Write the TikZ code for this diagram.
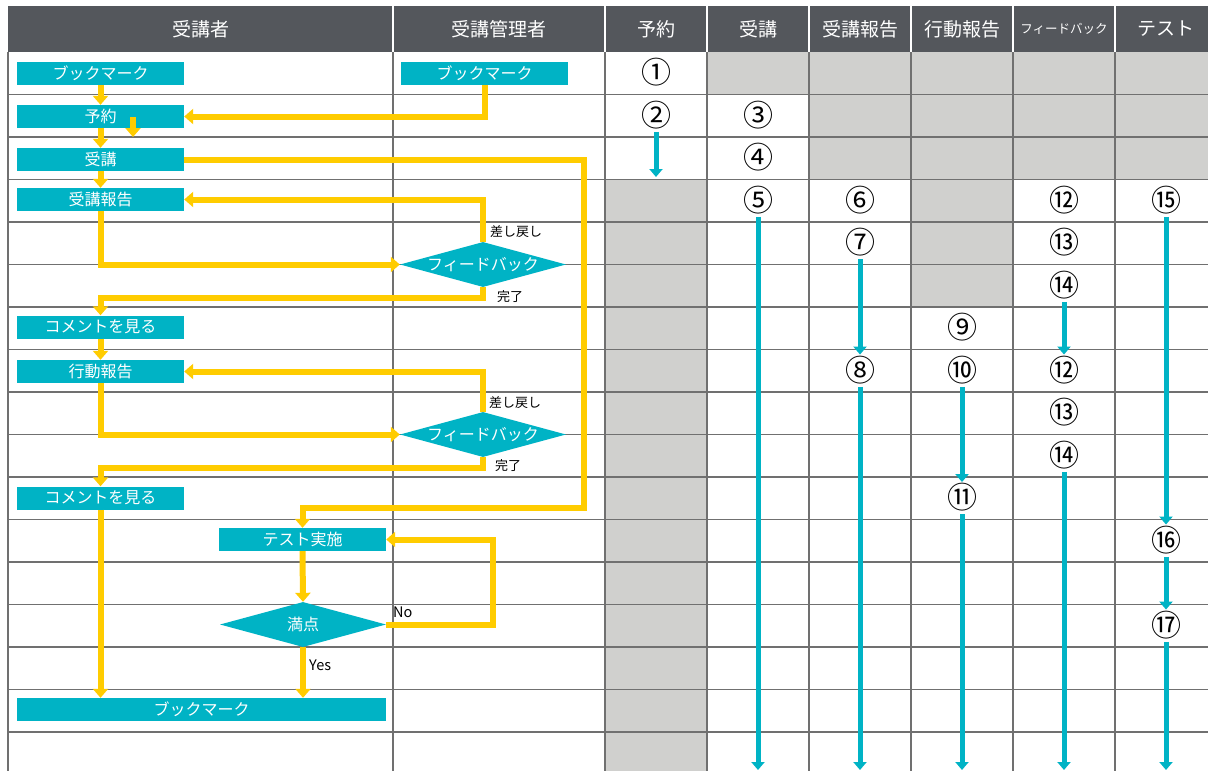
\documentclass[tikz,border=0pt]{standalone}
\usepackage{fontspec}
\setmainfont{Noto Sans CJK JP}
\usetikzlibrary{arrows.meta,shapes.geometric,calc}
\definecolor{tealc}{RGB}{0,179,197}
\definecolor{yel}{RGB}{255,204,0}
\definecolor{headc}{RGB}{84,87,92}
\definecolor{cellc}{RGB}{208,208,206}
\definecolor{gridc}{RGB}{112,112,112}
\tikzset{
  box/.style={fill=tealc, text=white, inner sep=0pt, minimum height=23pt, minimum width=167pt, font=\fontsize{16pt}{16pt}\selectfont},
  dia/.style={diamond, shape aspect=3.7, fill=tealc, text=white, inner sep=0pt, minimum width=166pt, minimum height=45pt, font=\fontsize{16pt}{16pt}\selectfont},
  yarrow/.style={draw=yel, line width=6pt, -{Triangle[width=15pt,length=9pt]}},
  barrow/.style={draw=tealc, line width=5pt, -{Triangle[width=13pt,length=8pt]}},
  num/.style={rectangle, inner sep=0pt, font=\fontsize{30pt}{30pt}\selectfont, text height=26.5pt, text depth=5.5pt},
  lbl/.style={anchor=west, inner sep=0pt, font=\fontsize{13pt}{13pt}\selectfont},
  lat/.style={anchor=west, inner sep=0pt, font=\fontsize{14.5pt}{14.5pt}\selectfont},
  head/.style={text=white, font=\fontsize{19pt}{19pt}\selectfont},
  gridline/.style={draw=gridc, line width=1.3pt}
}
\begin{document}
\begin{tikzpicture}[x=1pt,y=-1pt]
\useasboundingbox (0,0) rectangle (1208,771);
\fill[white] (0,0) rectangle (1208,771);
% gray cells
\fill[cellc] (707,52) rectangle (1208,94.5);
\fill[cellc] (809,94.5) rectangle (1208,179.5);
\fill[cellc] (605,179.5) rectangle (707,771);
\fill[cellc] (911,179.5) rectangle (1013,307);
% grid
\foreach \k in {1,...,16} {
  \draw[gridline] (8,52+42.5*\k) -- (1208,52+42.5*\k);
}
\foreach \x in {8,393,605,707,809,911,1013,1115} {
  \draw[gridline] (\x,52) -- (\x,771);
}
% header
\fill[headc] (8,6) rectangle (1208,52);
\foreach \x in {393,605,707,809,911,1013,1115} {
  \draw[white, line width=1.3pt] (\x,6) -- (\x,52);
}
\node[head] (h1) at (200.5,29) {受講者};
\node[head] (h2) at (499,29) {受講管理者};
\node[head] (h3) at (656,29) {予約};
\node[head] (h4) at (758,29) {受講};
\node[head] (h5) at (860,29) {受講報告};
\node[head] (h6) at (962,29) {行動報告};
\node[text=white, font=\fontsize{12.5pt}{12.5pt}\selectfont] (h7) at (1064,29) {フィードバック};
\node[head] (h8) at (1166,29) {テスト};

% boxes
\node[box] (bm1) at (100.5,73.5) {ブックマーク};
\node[box] (bm2) at (484.5,73.5) {ブックマーク};
\node[box] (yoyaku) at (100.5,116.5) {予約};
\node[box] (jukou) at (100.5,159.5) {受講};
\node[box] (hokoku) at (100.5,199.5) {受講報告};
\node[dia] (fb1) at (483,264.5) {フィードバック};
\node[box] (com1) at (100.5,327) {コメントを見る};
\node[box] (koudou) at (100.5,371.5) {行動報告};
\node[dia] (fb2) at (483,434.5) {フィードバック};
\node[box] (com2) at (100.5,498) {コメントを見る};
\node[box] (test) at (302.5,539.5) {テスト実施};
\node[dia] (manten) at (303,624.5) {満点};
\node[box, minimum width=369pt] (bm3) at (201.5,709.5) {ブックマーク};

% coordinates
\coordinate (s1) at (133,117);
\coordinate (s2) at (133,137);
\coordinate (c1) at (584,508);
\coordinate (d1) at (483,298);
\coordinate (d2) at (483,468);
\coordinate (c2) at (493,624.5);

% yellow connectors
\draw[yarrow] (bm1.south) -- (yoyaku.north);
\draw[yarrow] (yoyaku.south) -- (jukou.north);
\draw[yarrow] (s1) -- (s2);
\draw[yarrow] (jukou.south) -- (hokoku.north);
\draw[yarrow] (bm2.south) |- (yoyaku.east);
\draw[yarrow] (jukou.east) -| (c1) -| (test.north);
\draw[yarrow] (hokoku.south) |- (fb1.west);
\draw[yarrow] (fb1.north) |- (hokoku.east);
\draw[yarrow] (fb1.south) -- (d1) -| (com1.north);
\draw[yarrow] (com1.south) -- (koudou.north);
\draw[yarrow] (koudou.south) |- (fb2.west);
\draw[yarrow] (fb2.north) |- (koudou.east);
\draw[yarrow] (fb2.south) -- (d2) -| (com2.north);
\draw[yarrow] (com2.south) -- (com2.south |- bm3.north);
\draw[yarrow] (test.south) -- (manten.north);
\draw[yarrow] (manten.south) -- (manten.south |- bm3.north);
\draw[yarrow] (manten.east) -- (c2) |- (test.east);

% labels
\node[lbl] (l1) at (490,232) {差し戻し};
\node[lbl] (l2) at (497,297) {完了};
\node[lbl] (l3) at (489,403) {差し戻し};
\node[lbl] (l4) at (495,466) {完了};
\node[lat] (l5) at (393,612) {No};
\node[lat] (l6) at (309,665) {Yes};

% numbers
\node[num] (n1) at (656,73.25) {①};
\node[num] (n2) at (656,115.75) {②};
\node[num] (n3) at (758,115.75) {③};
\node[num] (n4) at (758,158.25) {④};
\node[num] (n5) at (758,200.75) {⑤};
\node[num] (n6) at (860,200.75) {⑥};
\node[num] (n7) at (860,243.25) {⑦};
\node[num] (n8) at (860,370.75) {⑧};
\node[num] (n9) at (962,328.25) {⑨};
\node[num] (n10) at (962,370.75) {⑩};
\node[num] (n11) at (962,498.25) {⑪};
\node[num] (n12a) at (1064,200.75) {⑫};
\node[num] (n13a) at (1064,243.25) {⑬};
\node[num] (n14a) at (1064,285.75) {⑭};
\node[num] (n12b) at (1064,370.75) {⑫};
\node[num] (n13b) at (1064,413.25) {⑬};
\node[num] (n14b) at (1064,455.75) {⑭};
\node[num] (n15) at (1166,200.75) {⑮};
\node[num] (n16) at (1166,540.75) {⑯};
\node[num] (n17) at (1166,625.75) {⑰};

\coordinate (e2) at (656,177);
\coordinate (e5) at (758,770);
\coordinate (e8) at (860,770);
\coordinate (e11) at (962,770);
\coordinate (e14) at (1064,770);
\coordinate (e17) at (1166,770);

% blue arrows
\draw[barrow] (n2.south) -- (e2);
\draw[barrow] (n5.south) -- (e5);
\draw[barrow] (n7.south) -- (n8.north);
\draw[barrow] (n8.south) -- (e8);
\draw[barrow] (n10.south) -- (n11.north);
\draw[barrow] (n11.south) -- (e11);
\draw[barrow] (n14a.south) -- (n12b.north);
\draw[barrow] (n14b.south) -- (e14);
\draw[barrow] (n15.south) -- (n16.north);
\draw[barrow] (n16.south) -- (n17.north);
\draw[barrow] (n17.south) -- (e17);
\end{tikzpicture}
\end{document}
